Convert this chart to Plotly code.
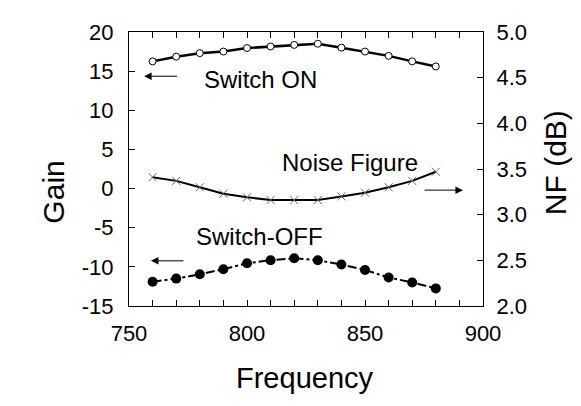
import plotly.graph_objects as go

freq = [760, 770, 780, 790, 800, 810, 820, 830, 840, 850, 860, 870, 880]
gain_on = [16.25, 16.85, 17.3, 17.5, 17.95, 18.15, 18.35, 18.5, 18.0, 17.5, 16.95, 16.25, 15.6]
gain_off = [-11.9, -11.5, -10.95, -10.3, -9.55, -9.15, -8.9, -9.15, -9.7, -10.4, -11.35, -12.0, -12.75]
nf = [3.41, 3.37, 3.30, 3.23, 3.19, 3.16, 3.16, 3.16, 3.20, 3.24, 3.30, 3.37, 3.47]

x_ticks = list(range(750, 901, 10))
x_ticktext = [str(v) if v % 50 == 0 else "" for v in x_ticks]
y1_ticks = [-15, -10, -5, 0, 5, 10, 15, 20]
y1_ticktext = [str(v) for v in y1_ticks]
y2_ticks = [2.0, 2.5, 3.0, 3.5, 4.0, 4.5, 5.0]

FONT = "Liberation Sans, Arial, Helvetica, sans-serif"

fig = go.Figure()
fig.add_trace(go.Scatter(
    x=freq, y=gain_on, mode="lines+markers", yaxis="y",
    line=dict(color="black", width=2.5),
    marker=dict(symbol="circle", size=7, color="white", line=dict(color="black", width=1)),
    showlegend=False))
fig.add_trace(go.Scatter(
    x=freq, y=nf, mode="lines+markers", yaxis="y2",
    line=dict(color="black", width=2),
    marker=dict(symbol="x-thin", size=8, color="#666", line=dict(color="#666", width=1)),
    showlegend=False))
fig.add_trace(go.Scatter(
    x=freq, y=gain_off, mode="lines+markers", yaxis="y",
    line=dict(color="black", width=2, dash="dashdot"),
    marker=dict(symbol="circle", size=10, color="black"),
    showlegend=False))

annots = [
    dict(x=805.9, y=13.98, text="Switch ON"),
    dict(x=843.6, y=3.31, text="Noise Figure"),
    dict(x=805.3, y=-6.1, text="Switch-OFF"),
]
annotations = []
for a in annots:
    annotations.append(dict(x=a["x"], y=a["y"], xref="x", yref="y", text=a["text"],
                            showarrow=False, font=dict(size=24, color="black", family=FONT)))
arrows = [
    (756.4, 14.35, 771.0, 14.35),
    (891.5, -0.2, 874.6, -0.2),
    (759.3, -9.23, 773.7, -9.23),
]
for hx, hy, tx, ty in arrows:
    annotations.append(dict(x=hx, y=hy, ax=tx, ay=ty, xref="x", yref="y", axref="x", ayref="y",
                            text="", showarrow=True, arrowhead=2, arrowsize=1.5, arrowwidth=1,
                            arrowcolor="black"))
annotations += [
    dict(x=-0.268, y=0.416, xref="paper", yref="paper", text="Gain", textangle=-90,
         showarrow=False, font=dict(size=30, color="black", family=FONT)),
    dict(x=1.257, y=0.523, xref="paper", yref="paper", text="NF (dB)", textangle=-90,
         showarrow=False, font=dict(size=30, color="black", family=FONT)),
    dict(x=0.497, y=-0.33, xref="paper", yref="paper", text="Frequency",
         showarrow=False, font=dict(size=29, color="black", family=FONT)),
]

fig.update_layout(
    width=581, height=406,
    margin=dict(l=121, r=106, t=19, b=108),
    paper_bgcolor="white", plot_bgcolor="white",
    font=dict(family=FONT, size=22, color="black"),
    annotations=annotations,
    xaxis=dict(range=[750, 900], tickvals=x_ticks, ticktext=x_ticktext,
               ticks="inside", ticklen=6, tickcolor="black", showline=True, linecolor="black",
               linewidth=1, mirror="ticks", showgrid=False, zeroline=False,
               ticklabelstandoff=8, tickfont=dict(size=22)),
    yaxis=dict(range=[-15, 20], tickvals=y1_ticks, ticktext=y1_ticktext, ticks="inside",
               ticklen=6, tickcolor="black",
               showline=True, linecolor="black", linewidth=1, showgrid=False, zeroline=False,
               ticklabelstandoff=10, tickfont=dict(size=22)),
    yaxis2=dict(range=[2.0, 5.0], tickvals=y2_ticks, tickformat=".1f", overlaying="y", side="right",
                ticks="inside", ticklen=6, tickcolor="black", showline=True, linecolor="black",
                linewidth=1, showgrid=False, zeroline=False, ticklabelstandoff=8,
                tickfont=dict(size=22)),
)

fig.write_html("out.html")
